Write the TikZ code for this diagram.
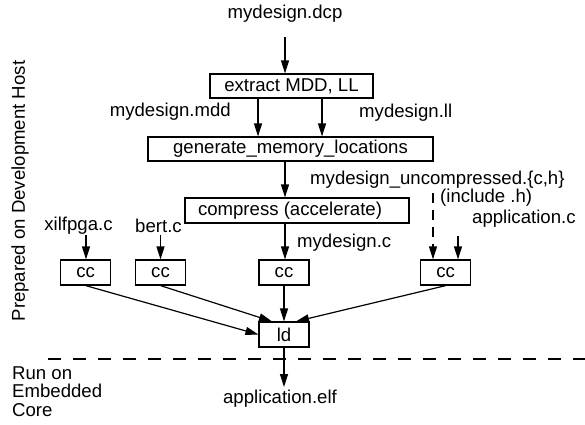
\documentclass[tikz,border=0pt]{standalone}
\usepackage{fontspec}
\setmainfont{Liberation Sans}
\usetikzlibrary{arrows.meta}
\tikzset{
  box/.style={draw, line width=1.2pt, inner sep=0pt, minimum height=25pt},
  lbl/.style={inner sep=0pt},
  flow/.style={line width=1.2pt, -{Triangle[length=13pt,width=8pt]}},
}
\begin{document}
\begin{tikzpicture}[x=1pt, y=-1pt, font=\fontsize{18.6}{18.7}\selectfont]
\useasboundingbox (0,0) rectangle (585,424);

% processing steps
\node[box, minimum width=163pt, minimum height=24pt] (extract) at (291.5,86) {extract MDD, LL};
\node[box, minimum width=285pt, minimum height=24pt] (generate) at (290.5,149) {generate\_memory\_locations};
\node[box, minimum width=224pt] (compress) at (297,210.5) {};
\node[lbl] (compresstxt) at (290,210.5) {compress (accelerate)};
\node[box, minimum width=50pt] (cc1) at (85.7,272.5) {cc};
\node[box, minimum width=50pt] (cc2) at (160.5,272.5) {cc};
\node[box, minimum width=50pt] (cc3) at (284,272.5) {cc};
\node[box, minimum width=50pt] (cc4) at (445.7,272.5) {cc};
\node[box, minimum width=50pt] (ld) at (284,334.5) {ld};

% file names
\node[lbl] (dcp) at (285,14) {mydesign.dcp};
\node[lbl, anchor=east] (mdd) at (231,112) {mydesign.mdd};
\node[lbl, anchor=west] (ll) at (359,113) {mydesign.ll};
\node[lbl, anchor=west] (unc) at (310,180) {mydesign\_uncompressed.\{c,h\}};
\node[lbl, anchor=west] (inc) at (440,198) {(include .h)};
\node[lbl, anchor=west] (appc) at (472,219) {application.c};
\node[lbl] (xil) at (78.5,226) {xilfpga.c};
\node[lbl] (bert) at (158.5,226) {bert.c};
\node[lbl, anchor=west] (myc) at (297,243) {mydesign.c};
\node[lbl] (elf) at (280,399) {application.elf};

% side captions
\node[lbl, rotate=90] (host) at (20,191) {Prepared on Development Host};
\node[lbl, anchor=north west, align=left] (core) at (12,366) {Run on\\Embedded\\Core};

% connector end points
\coordinate (dcpend) at (285,37);
\coordinate (xilend) at (86,235);
\coordinate (bertend) at (160.5,235);
\coordinate (uncend) at (433,193);
\coordinate (appcend) at (458,236);
\coordinate (elfend) at (284,387);

% flow
\draw[flow] (dcpend) -- (dcpend |- extract.north);
\draw[flow] (extract.south -| 258,0) -- (generate.north -| 258,0);
\draw[flow] (extract.south -| 322,0) -- (generate.north -| 322,0);
\draw[flow] (generate.south -| 285,0) -- (compress.north -| 285,0);
\draw[flow] (compress.south -| 285,0) -- (cc3.north -| 285,0);
\draw[flow] (xilend) -- (xilend |- cc1.north);
\draw[flow] (bertend) -- (bertend |- cc2.north);
\draw[flow, dash pattern=on 10pt off 7pt] (uncend) -- (uncend |- cc4.north);
\draw[flow] (appcend) -- (appcend |- cc4.north);
\draw[flow] (cc1.south) -- (ld.west);
\draw[flow] (cc2.south) -- ([xshift=-12pt]ld.north);
\draw[flow] (cc3.south) -- (ld.north);
\draw[flow] (cc4.south) -- ([xshift=12pt]ld.north);
\draw[flow] (ld.south) -- (elfend);

% host / target boundary
\coordinate (divl) at (48,359);
\coordinate (divr) at (585,359);
\draw[line width=1.2pt, dash pattern=on 13pt off 12pt] (divl) -- (divr);
\end{tikzpicture}
\end{document}
